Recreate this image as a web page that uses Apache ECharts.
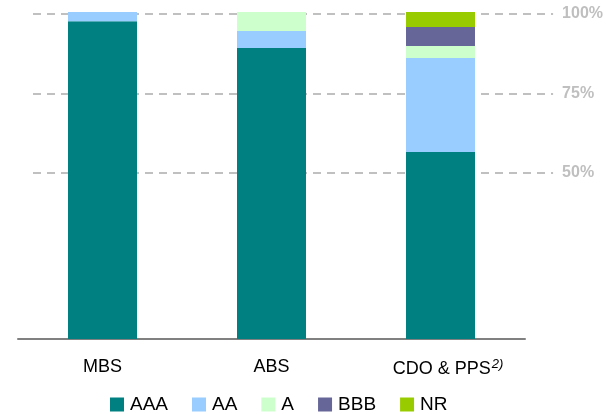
<!DOCTYPE html>
<html><head><meta charset="utf-8">
<script src="https://cdn.jsdelivr.net/npm/echarts@6/dist/echarts.min.js"></script>
<style>html,body{margin:0;padding:0;background:#fff}#c{width:606px;height:414px}</style>
</head><body><div id="c"></div>
<script>
const categories = ['MBS', 'ABS', 'CDO & PPS'];
const seriesNames = ['AAA', 'AA', 'A', 'BBB', 'NR'];
const AAA = [97.2, 89, 57.2];
const AA = [2.8, 5.2, 28.7];
const A = [0, 5.8, 3.7];
const BBB = [0, 0, 5.8];
const NR = [0, 0, 4.6];
const yTicks = [0, 25, 50, 75, 100];
const shownTicks = [50, 75, 100];
const colors = ['#008080', '#99ccff', '#ccffcc', '#666699', '#99cc00'];
const values = [AAA, AA, A, BBB, NR];

const chart = echarts.init(document.getElementById('c'), null, {renderer: 'canvas'});
const font = '"Liberation Sans", Arial, sans-serif';
chart.setOption({
  animation: false,
  color: colors,
  grid: [
    {left: 18, right: 81, top: 12, bottom: 75},
    {left: 33, right: 47, top: 14, bottom: 82}
  ],
  legend: {
    data: seriesNames, left: 105, top: 390, icon: 'rect', itemWidth: 14, itemHeight: 14,
    itemGap: 24, textStyle: {fontSize: 19, color: '#000', fontFamily: font, padding: [0, 0, 0, 1]}
  },
  xAxis: [
    {type: 'category', gridIndex: 0, data: categories,
     axisLine: {lineStyle: {color: '#808080', width: 2}}, axisTick: {show: false},
     axisLabel: {interval: 0, margin: 19, fontSize: 18, color: '#000', fontFamily: font,
       formatter: v => v === 'CDO & PPS' ? '{pad|}{m|' + v + '}{s|2)}' : v,
       rich: {m: {fontSize: 18, fontFamily: font, color: '#000'},
              s: {fontSize: 13, fontStyle: 'italic', fontFamily: font, color: '#000', verticalAlign: 'top', padding: [0, 0, 9, 1]},
              pad: {width: 15}}}},
    {type: 'value', gridIndex: 1, show: false, min: 0, max: 1}
  ],
  yAxis: [
    {type: 'value', gridIndex: 0, min: 0, max: 100, show: false},
    {type: 'value', gridIndex: 1, min: 0, max: 100, interval: 25, position: 'right',
     axisLine: {show: false}, axisTick: {show: false},
     axisLabel: {margin: 9, fontSize: 16, fontWeight: 'bold', color: '#bfbfbf', fontFamily: font,
       formatter: v => shownTicks.includes(v) ? v + '%' : ''},
     splitLine: {show: true, lineStyle: {type: [8, 6], width: 2,
       color: yTicks.map(t => shownTicks.includes(t) ? '#c0c0c0' : 'rgba(0,0,0,0)')}}}
  ],
  series: seriesNames.map((n, i) => ({
    name: n, type: 'bar', stack: 'r', xAxisIndex: 0, yAxisIndex: 0,
    data: values[i], barWidth: 69, z: 1,
    itemStyle: {color: colors[i]}
  }))
});
</script></body></html>
